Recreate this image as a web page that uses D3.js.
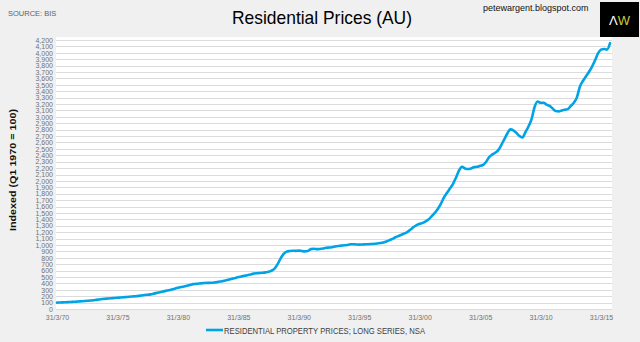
<!DOCTYPE html>
<html><head><meta charset="utf-8">
<script src="https://cdn.jsdelivr.net/npm/d3@7"></script>
<style>
html,body{margin:0;padding:0;background:#f0f0f0;}
svg{display:block;}
</style></head>
<body>
<script>
// ---- Data ----
const startYear = 1970;
const quarterValues = [
  100,102,104,106, 109,111,114,116, 120,124,128,132, 137,143,149,155,
  160,165,169,172, 176,180,184,188, 192,196,200,205, 212,218,223,228,
  240,252,262,272, 283,294,305,318, 330,342,352,362, 375,388,392,398,
  402,406,408,410, 414,420,428,438, 448,460,472,485, 498,508,518,528,
  540,552,558,562, 566,572,580,600, 630,700,790,860, 895,905,910,908,
  912,905,900,905, 935,940,935,938, 945,955,960,965, 975,985,990,995,
  1000,1010,1012,1008, 1005,1008,1010,1012, 1015,1018,1022,1030, 1040,1055,1075,1095,
  1120,1140,1160,1180, 1205,1240,1280,1310, 1330,1345,1370,1400, 1450,1500,1560,1640,
  1740,1810,1880,1950, 2050,2160,2220,2195, 2185,2195,2215,2220, 2235,2250,2300,2370,
  2410,2440,2480,2560, 2650,2740,2805,2790, 2750,2700,2680,2760, 2850,2960,3150,3240,
  3220,3220,3190,3170, 3130,3090,3085,3100, 3110,3120,3170,3220, 3300,3470,3560,3630,
  3700,3780,3880,3990, 4050,4060,4050,4150
];
const xTickYears = [1970,1975,1980,1985,1990,1995,2000,2005,2010,2015];
const xTickLabels = ["31/3/70","31/3/75","31/3/80","31/3/85","31/3/90","31/3/95","31/3/00","31/3/05","31/3/10","31/3/15"];
const yTicks = d3.range(0, 4201, 100);
const seriesName = "RESIDENTIAL PROPERTY PRICES; LONG SERIES, NSA";
const titleText = "Residential Prices (AU)";
const sourceText = "SOURCE: BIS";
const siteText = "petewargent.blogspot.com";
const yTitle = "Indexed (Q1 1970 = 100)";

const data = quarterValues.map((v,i)=>({t: startYear + i/4, v}));

// ---- Layout ----
const W = 640, H = 342;
const plot = {left:56, right:612, top:37, bottom:310};
const svg = d3.select("body").append("svg").attr("width",W).attr("height",H);
svg.append("rect").attr("width",W).attr("height",H).attr("fill","#f0f0f0");

const x = d3.scaleLinear().domain([1970, 2015]).range([57, 601]);
const y = d3.scaleLinear().domain([0, 4200]).range([309, 40]);

svg.append("rect").attr("x",plot.left).attr("y",plot.top)
  .attr("width",plot.right-plot.left).attr("height",plot.bottom-plot.top).attr("fill","#ffffff");

// gridlines
svg.append("g").selectAll("line").data(yTicks).join("line")
  .attr("x1",plot.left).attr("x2",plot.right)
  .attr("y1",d=>Math.round(y(d))+0.5).attr("y2",d=>Math.round(y(d))+0.5)
  .attr("stroke","#dcdcdc").attr("stroke-width",1);

const tickFont = "'Liberation Sans',Arial,sans-serif";

// y axis
const yAxis = d3.axisLeft(y).tickValues(yTicks).tickSize(0).tickPadding(0)
  .tickFormat(d3.format(","));
const gy = svg.append("g").attr("transform",`translate(53,0)`).call(yAxis);
gy.select(".domain").remove();
gy.selectAll("text").attr("fill","#707070").style("font-family",tickFont).style("font-size","7px");

// x axis
const xAxis = d3.axisBottom(x).tickValues(xTickYears).tickSize(0).tickPadding(0)
  .tickFormat((d,i)=>xTickLabels[i]);
const gx = svg.append("g").attr("transform",`translate(0,315)`).call(xAxis);
gx.select(".domain").remove();
gx.selectAll("text").attr("fill","#707070").style("font-family",tickFont).style("font-size","7px");

// line
const line = d3.line().x(d=>x(d.t)).y(d=>y(d.v)).curve(d3.curveMonotoneX);
svg.append("path").datum(data).attr("d",line).attr("fill","none")
  .attr("stroke","#00a3e6").attr("stroke-width",2.6).attr("stroke-linejoin","round").attr("stroke-linecap","round");

// title
svg.append("text").attr("x",322).attr("y",24).attr("text-anchor","middle")
  .style("font-family","'Liberation Sans',Arial,sans-serif")
  .style("font-size","18.5px").attr("textLength",180).attr("lengthAdjust","spacingAndGlyphs")
  .attr("fill","#000").text(titleText);

svg.append("text").attr("x",8).attr("y",16)
  .style("font-family",tickFont).style("font-size","7.5px").attr("fill","#606060").text(sourceText);

svg.append("text").attr("x",483).attr("y",11)
  .style("font-family","'Liberation Sans',Arial,sans-serif")
  .style("font-size","9px").attr("fill","#111").text(siteText);

// logo
svg.append("rect").attr("x",600).attr("y",2).attr("width",39).attr("height",35).attr("fill","#000");
const logo = svg.append("text").attr("x",619.5).attr("y",25).attr("text-anchor","middle")
  .style("font-family","'Liberation Sans',Arial,sans-serif").style("font-size","13px");
logo.append("tspan").attr("fill","#ffffff").text("Λ");
logo.append("tspan").attr("fill","#c8cc3a").text("W");

// y title
svg.append("text").attr("transform","translate(16,170) rotate(-90)").attr("text-anchor","middle")
  .style("font-family","'Liberation Sans',Arial,sans-serif")
  .style("font-size","9.5px").style("font-weight","bold")
  .attr("textLength",122).attr("lengthAdjust","spacingAndGlyphs")
  .attr("fill","#111").text(yTitle);

// legend
svg.append("line").attr("x1",206).attr("x2",223).attr("y1",330).attr("y2",330)
  .attr("stroke","#00a3e6").attr("stroke-width",2.6);
svg.append("text").attr("x",224).attr("y",333.5)
  .style("font-family","'Liberation Sans',Arial,sans-serif").style("font-size","9px")
  .attr("textLength",201).attr("lengthAdjust","spacingAndGlyphs")
  .attr("fill","#404040").text(seriesName);
</script>
</body></html>
